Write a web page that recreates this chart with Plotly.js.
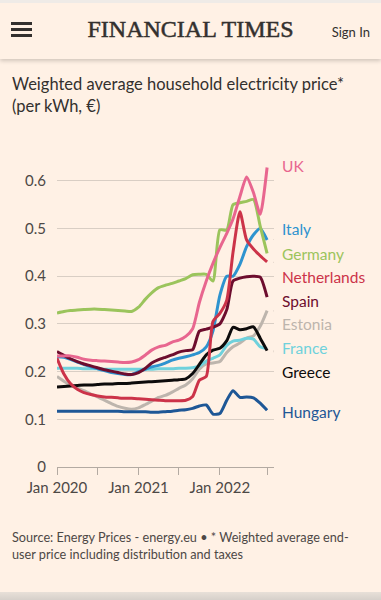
<!DOCTYPE html>
<html>
<head>
<meta charset="utf-8">
<script src="https://cdn.plot.ly/plotly-3.0.1.min.js"></script>
<style>
  html, body { margin:0; padding:0; background:#fff1e5; width:381px; height:600px; overflow:hidden; }
  #topstrip { position:absolute; left:0; top:0; width:381px; height:3px; background:#efebe7; z-index:3; }
  #header { position:absolute; left:0; top:3px; width:381px; height:56px; background:#fff1e5; z-index:2;
            box-shadow:0 2px 4px rgba(0,0,0,0.18); }
  .bar { position:absolute; left:11px; width:21px; height:3px; background:#33302e; }
  #brand { position:absolute; left:0; width:381px; top:13px; text-align:center; font-family:"Liberation Serif","DejaVu Serif",serif;
           font-weight:normal; font-size:24px; color:#33302e; -webkit-text-stroke:0.5px #33302e; }
  #signin { position:absolute; right:11px; top:21px; font-family:Lato,"Open Sans",sans-serif; font-size:13px; color:#33302e; }
  #bottomstrip { position:absolute; left:0; top:592px; width:381px; height:8px; background:linear-gradient(#e8e0d8,#d6d0ca); z-index:3; }
  #chart { position:absolute; left:0; top:0; width:381px; height:600px; }
</style>
</head>
<body>
<div id="chart"></div>
<div id="topstrip"></div>
<div id="header">
  <div class="bar" style="top:19px"></div>
  <div class="bar" style="top:25px"></div>
  <div class="bar" style="top:31px"></div>
  <div id="brand">FINANCIAL TIMES</div>
  <div id="signin">Sign In</div>
</div>
<div id="bottomstrip"></div>
<script>
const months = ["2020-01-01","2020-02-01","2020-03-01","2020-04-01","2020-05-01","2020-06-01","2020-07-01","2020-08-01","2020-09-01","2020-10-01","2020-11-01","2020-12-01",
                "2021-01-01","2021-02-01","2021-03-01","2021-04-01","2021-05-01","2021-06-01","2021-07-01","2021-08-01","2021-09-01","2021-10-01","2021-11-01","2021-12-01",
                "2022-01-01","2022-02-01","2022-03-01","2022-04-01","2022-05-01","2022-06-01","2022-07-01","2022-08-01"];

const uk          = [0.233,0.233,0.233,0.230,0.226,0.224,0.223,0.222,0.221,0.220,0.219,0.220,0.225,0.235,0.245,0.252,0.255,0.262,0.266,0.274,0.290,0.345,0.390,0.427,0.460,0.490,0.520,0.567,0.608,0.575,0.530,0.628];
const italy       = [0.231,0.230,0.226,0.220,0.215,0.210,0.206,0.202,0.198,0.196,0.194,0.194,0.200,0.205,0.210,0.213,0.218,0.224,0.228,0.231,0.235,0.240,0.252,0.285,0.360,0.400,0.400,0.425,0.462,0.487,0.500,0.476];
const germany     = [0.323,0.326,0.328,0.329,0.330,0.331,0.331,0.330,0.329,0.328,0.327,0.326,0.335,0.352,0.365,0.376,0.381,0.385,0.390,0.395,0.403,0.404,0.404,0.390,0.497,0.497,0.550,0.554,0.557,0.561,0.505,0.448];
const netherlands = [0.228,0.195,0.175,0.163,0.156,0.152,0.149,0.147,0.146,0.145,0.144,0.144,0.143,0.142,0.141,0.140,0.139,0.139,0.139,0.140,0.148,0.182,0.190,0.305,0.322,0.350,0.450,0.535,0.476,0.457,0.443,0.430];
const spain       = [0.242,0.234,0.227,0.221,0.216,0.212,0.208,0.204,0.201,0.198,0.195,0.194,0.198,0.207,0.218,0.225,0.230,0.235,0.241,0.244,0.246,0.285,0.289,0.293,0.300,0.330,0.390,0.396,0.399,0.400,0.398,0.356];
const estonia     = [0.190,0.180,0.172,0.166,0.160,0.153,0.147,0.140,0.133,0.127,0.123,0.121,0.124,0.131,0.138,0.146,0.150,0.157,0.165,0.172,0.185,0.205,0.216,0.218,0.221,0.240,0.252,0.260,0.270,0.275,0.295,0.328];
const france      = [0.207,0.207,0.207,0.207,0.206,0.206,0.206,0.205,0.205,0.205,0.205,0.205,0.205,0.205,0.205,0.206,0.206,0.206,0.207,0.207,0.208,0.212,0.222,0.228,0.235,0.255,0.264,0.266,0.270,0.268,0.252,0.248];
const greece      = [0.168,0.169,0.170,0.171,0.172,0.172,0.173,0.174,0.174,0.175,0.175,0.176,0.177,0.178,0.179,0.180,0.181,0.182,0.183,0.185,0.196,0.215,0.235,0.245,0.249,0.265,0.293,0.288,0.290,0.294,0.270,0.244];
const hungary     = [0.117,0.117,0.117,0.117,0.117,0.117,0.117,0.117,0.117,0.117,0.116,0.116,0.116,0.116,0.115,0.115,0.116,0.117,0.119,0.120,0.123,0.128,0.130,0.111,0.112,0.140,0.160,0.146,0.147,0.145,0.134,0.119];

const seriesNames  = ["Estonia","Hungary","France","Greece","Italy","Spain","Netherlands","Germany","UK"];
const seriesValues = [estonia, hungary, france, greece, italy, spain, netherlands, germany, uk];
const seriesColors = ["#bdb5ad","#1e5796","#6fd1dc","#0d0b0b","#2e93cf","#6d0d2e","#cc3349","#9bc45c","#e8668f"];
const labelY       = [0.300, 0.115, 0.249, 0.199, 0.498, 0.349, 0.399, 0.447, 0.631];

const xTickVals  = ["2020-01-01","2020-07-01","2021-01-01","2021-07-01","2022-01-01","2022-08-01"];
const xTickText  = ["Jan 2020","","Jan 2021","","Jan 2022",""];
const yTickVals  = [0, 0.1, 0.2, 0.3, 0.4, 0.5, 0.6];
const yTickText  = ["0","0.1","0.2","0.3","0.4","0.5","0.6"];

const titleLines = ["Weighted average household electricity price*", "(per kWh, €)"];
const sourceText = "Source: Energy Prices - energy.eu • * Weighted average end-<br>user price including distribution and taxes";

const FONT = "Lato, 'Open Sans', sans-serif";
const lastDate = months[months.length-1];

// plot area in pixels: left 57, right 274, top 157, bottom 467
const PL = 57, PW = 217, PB = 467, PH = 310;
const px2paperX = p => (p - PL) / PW;
const px2paperY = p => (PB - p) / PH;

const traces = seriesNames.map((n,i) => ({
  type:'scatter', mode:'lines', name:n, x:months, y:seriesValues[i],
  line:{color:seriesColors[i], width:3, shape:'spline', smoothing:0.6},
  hoverinfo:'skip'
}));

const shapes = seriesNames.map((n,i) => ({
  type:'line', xref:'x', xsizemode:'pixel', xanchor:lastDate, x0:7, x1:11,
  yref:'y', y0:seriesValues[i][seriesValues[i].length-1], y1:labelY[i],
  line:{color:'#a59d96', width:1}
}));

const annotations = seriesNames.map((n,i) => ({
  xref:'x', x:lastDate, xanchor:'left', xshift:13, yref:'y', y:labelY[i], yanchor:'middle',
  text:n, showarrow:false, font:{family:FONT, size:15.5, color:seriesColors[i]}
}));

annotations.push({
  xref:'paper', x:px2paperX(10), xanchor:'left', yref:'paper', y:px2paperY(84), yanchor:'middle',
  text:titleLines[0], showarrow:false, font:{family:FONT, size:16.5, color:'#33302e'}
});
annotations.push({
  xref:'paper', x:px2paperX(10), xanchor:'left', yref:'paper', y:px2paperY(106), yanchor:'middle',
  text:titleLines[1], showarrow:false, font:{family:FONT, size:16.5, color:'#33302e'}
});
annotations.push({
  xref:'paper', x:px2paperX(10), xanchor:'left', yref:'paper', y:px2paperY(527), yanchor:'top', align:'left',
  text:sourceText, showarrow:false, font:{family:FONT, size:12.7, color:'#4d4845'}
});

const layout = {
  width:381, height:600,
  paper_bgcolor:'#fff1e5', plot_bgcolor:'#fff1e5',
  margin:{l:57, r:107, t:157, b:133},
  showlegend:false,
  xaxis:{type:'date', range:['2020-01-01','2022-09-01'], tickvals:xTickVals, ticktext:xTickText,
         showgrid:false, zeroline:false, showline:true, linecolor:'#b3aaa2', linewidth:1,
         ticks:'outside', ticklen:7, tickcolor:'#b3aaa2', tickwidth:1,
         tickfont:{family:FONT, size:15, color:'#4d4845'}, fixedrange:true},
  yaxis:{range:[0,0.65], tickvals:yTickVals, ticktext:yTickText, showgrid:true, gridcolor:'#d9cec4', gridwidth:1,
         zeroline:false, showline:false, ticks:'', ticklabelstandoff:10,
         tickfont:{family:FONT, size:15, color:'#4d4845'}, fixedrange:true},
  shapes:shapes,
  annotations:annotations
};

Plotly.newPlot('chart', traces, layout, {staticPlot:true, displayModeBar:false});
</script>
</body>
</html>
